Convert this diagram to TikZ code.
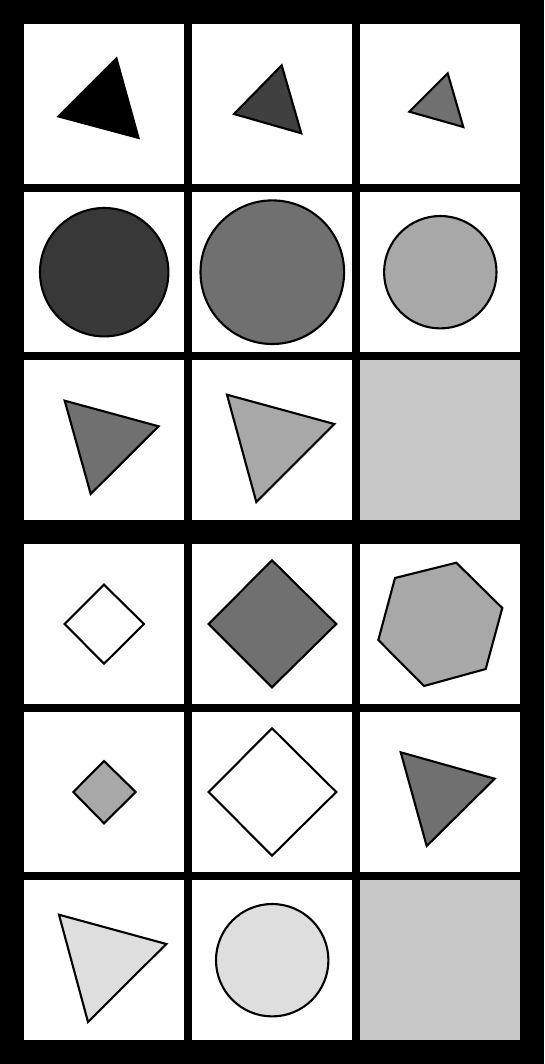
\documentclass[tikz,border=0pt]{standalone}
\begin{document}
\begin{tikzpicture}[x=1pt,y=-1pt,
  cellbox/.style={fill=white},
  shp/.style={draw=black,line width=2.1pt,line join=miter},
]
\definecolor{gA}{HTML}{383838}
\definecolor{gB}{HTML}{707070}
\definecolor{gC}{HTML}{A8A8A8}
\definecolor{gD}{HTML}{DEDEDE}
\definecolor{gE}{HTML}{C8C8C8}
\definecolor{gF}{HTML}{404040}
\fill[black] (0,0) rectangle (544,1064);
\useasboundingbox (0,0) rectangle (544,1064);
% cells
\foreach \cy in {24,192,360,544,712,880}{
  \foreach \cx in {24,192,360}{
    \fill[cellbox] (\cx,\cy) rectangle ++(160,160);
  }
}
\fill[gE] (360,360) rectangle ++(160,160);
\fill[gE] (360,880) rectangle ++(160,160);
% row 1
\filldraw[shp,fill=black,line width=1pt] (116.7,57.3) -- (57.3,116.7) -- (139.3,138.7) -- cycle;
\filldraw[shp,fill=gF] (281.7,65.3) -- (234,114) -- (301.3,133.3) -- cycle;
\filldraw[shp,fill=gB] (447.7,73.3) -- (409.3,111.7) -- (463.3,127) -- cycle;
% row 2
\filldraw[shp,fill=gA] (104.2,272.2) circle (64.2);
\filldraw[shp,fill=gB] (272.3,272.2) circle (71.8);
\filldraw[shp,fill=gC] (440.3,272.2) circle (56.2);
% row 3
\filldraw[shp,fill=gB] (64.7,400.7) -- (158.7,426.3) -- (90.7,494) -- cycle;
\filldraw[shp,fill=gC] (227,394.7) -- (334.3,424) -- (256.3,502) -- cycle;
% row 4
\filldraw[shp,fill=white] (104,584.7) -- (144,624) -- (104,663.7) -- (64.7,624) -- cycle;
\filldraw[shp,fill=gB] (272,560.3) -- (336.3,624) -- (272,687.3) -- (208.7,624) -- cycle;
\filldraw[shp,fill=gC] (395,578) -- (456.3,562.7) -- (502.3,608) -- (485.7,669) -- (424,686) -- (378.3,640) -- cycle;
% row 5
\filldraw[shp,fill=gC] (104,761) -- (135.7,792) -- (104,823.3) -- (73.3,792) -- cycle;
\filldraw[shp,fill=white] (272,728.3) -- (336.3,792) -- (272,855.7) -- (208.7,792) -- cycle;
\filldraw[shp,fill=gB] (400.7,752.3) -- (494.7,778.7) -- (426.7,846) -- cycle;
% row 6
\filldraw[shp,fill=gD] (59,914.7) -- (166.3,944) -- (88,1022) -- cycle;
\filldraw[shp,fill=gD] (272.2,960.2) circle (56.2);
\end{tikzpicture}
\end{document}
